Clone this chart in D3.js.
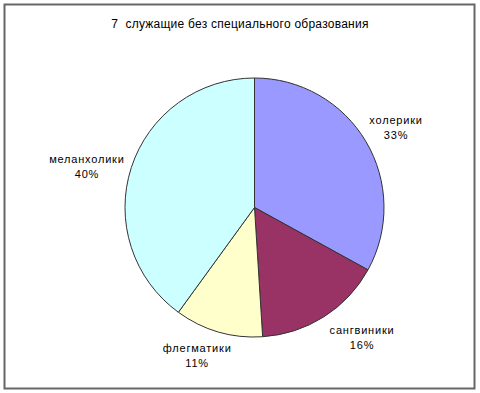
<!DOCTYPE html>
<html>
<head>
<meta charset="utf-8">
<script src="https://cdn.jsdelivr.net/npm/d3@7"></script>
<style>
  body { margin: 0; background: #fff; }
  text { font-family: "Liberation Sans", Arial, sans-serif; fill: #000; white-space: pre; }
</style>
</head>
<body>
<div id="chart"></div>
<script>
const TITLE = "7  служащие без специального образования";
const categories = ["холерики", "сангвиники", "флегматики", "меланхолики"];
const values = [33, 16, 11, 40];
const colors = ["#9999FF", "#993366", "#FFFFCC", "#CCFFFF"];

// label layout: distance from centre (in radii) and turn away from slice mid (degrees)
const label_dist = [1.257, 1.30, 1.22, 1.333];
const label_turn = [1.0, -7.3, 5.1, -4.1];

const width = 480, height = 393;
const cx = 254.5, cy = 207.5, r = 129.5;

const svg = d3.select("#chart").append("svg")
    .attr("width", width)
    .attr("height", height);

svg.append("rect")
    .attr("x", 4.5).attr("y", 4.5)
    .attr("width", 470).attr("height", 384)
    .attr("fill", "#fff")
    .attr("stroke", "#666")
    .attr("stroke-width", 2);

svg.append("text")
    .attr("x", 240).attr("y", 28)
    .attr("text-anchor", "middle")
    .style("font-size", "12px")
    .style("letter-spacing", "0.25px")
    .text(TITLE);

const data = categories.map((c, i) => ({
  name: c, value: values[i], color: colors[i], dist: label_dist[i], turn: label_turn[i]
}));

const pie = d3.pie().sort(null).value(d => d.value);
const arc = d3.arc().innerRadius(0).outerRadius(r);
const arcs = pie(data);

const g = svg.append("g").attr("transform", "translate(" + cx + "," + cy + ")");

g.selectAll("path")
    .data(arcs)
  .enter().append("path")
    .attr("d", arc)
    .attr("fill", d => d.data.color)
    .attr("stroke", "#333")
    .attr("stroke-width", 1);

const lbl = g.selectAll("g.lbl")
    .data(arcs)
  .enter().append("g")
    .attr("class", "lbl")
    .attr("transform", d => {
      const a = (d.startAngle + d.endAngle) / 2 + d.data.turn * Math.PI / 180;
      const rr = r * d.data.dist;
      return "translate(" + (Math.sin(a) * rr) + "," + (-Math.cos(a) * rr) + ")";
    });

lbl.append("text")
    .attr("text-anchor", "middle")
    .attr("y", -3)
    .style("font-size", "11px")
    .style("letter-spacing", "0.8px")
    .text(d => d.data.name);

lbl.append("text")
    .attr("text-anchor", "middle")
    .attr("y", 12)
    .style("font-size", "11px")
    .style("letter-spacing", "0.8px")
    .text(d => d.data.value + "%");
</script>
</body>
</html>
